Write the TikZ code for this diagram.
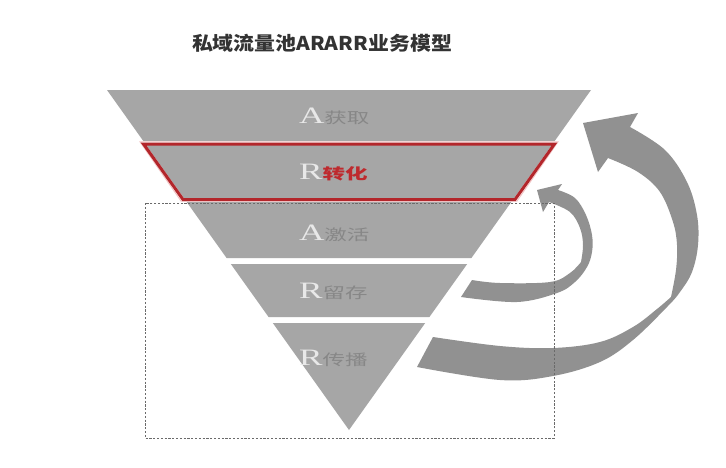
\documentclass[tikz,border=0pt]{standalone}
\usepackage{fontspec}
\setmainfont{Liberation Serif}
\newfontfamily\cjk{Noto Sans CJK SC}
\definecolor{bandgray}{HTML}{A6A6A6}
\definecolor{arrowgray}{HTML}{919191}
\definecolor{lettercol}{HTML}{E8E8E8}
\definecolor{txtgray}{HTML}{878787}
\definecolor{redline}{HTML}{B3262B}
\definecolor{redtxt}{HTML}{BE2A2E}
\definecolor{pinkline}{HTML}{F2C4C4}
\definecolor{titlecol}{HTML}{333333}
\definecolor{dashcol}{HTML}{6A6A6A}
\tikzset{
  band/.style={fill=bandgray},
  ribbon/.style={fill=arrowgray},
  lbl/.style={anchor=base west, inner sep=0pt, outer sep=0pt},
  frame/.style={draw=dashcol, line width=1pt, dash pattern=on 2.2pt off 1.6pt},
}
\newcommand\bandlabel[3]{\scalebox{1.5}[1]{{\color{lettercol}\fontsize{23.5}{23.5}\selectfont #1}{\cjk\fontsize{15}{15}\selectfont\color{#3}#2}}}
\begin{document}
\begin{tikzpicture}[x=1pt,y=-1pt]
\useasboundingbox (0,0) rectangle (726,467);
\fill[white] (0,0) rectangle (726,467);

% title
\node[inner sep=0pt] (title) at (322,43) {\scalebox{1.1}[1]{\cjk\bfseries\fontsize{19}{19}\selectfont\color{titlecol}私域流量池ARARR业务模型}};

% funnel bands
\fill[band] (107,90) -- (591,90) -- (554.7,141) -- (143.3,141) -- cycle;
\fill[band] (145.4,144) -- (552.6,144) -- (513.4,199) -- (184.6,199) -- cycle;
\fill[band] (186.7,202) -- (511.3,202) -- (471.4,258) -- (226.6,258) -- cycle;
\fill[band] (230.8,264) -- (467.2,264) -- (429.4,317) -- (268.6,317) -- cycle;
\fill[band] (272.8,323) -- (425.2,323) -- (349,430) -- cycle;

% red highlight of second band
\draw[pinkline, line width=1pt] (140,141.8) -- (558,141.8) -- (517,201) -- (181,201) -- cycle;
\draw[redline, line width=3pt, line join=miter] (143.5,144) -- (554.5,144) -- (515,199.5) -- (183,199.5) -- cycle;

% labels
\node[lbl] (l1) at (299,123) {\bandlabel{A}{获取}{txtgray}};
\node[lbl] (l2) at (299,179.5) {\bandlabel{R}{\bfseries 转化}{redtxt}};
\node[lbl] (l3) at (299,240) {\bandlabel{A}{激活}{txtgray}};
\node[lbl] (l4) at (299,298) {\bandlabel{R}{留存}{txtgray}};
\node[lbl] (l5) at (299,365) {\bandlabel{R}{传播}{txtgray}};

% big ribbon arrow
\fill[ribbon]
  plot[smooth, tension=0.6] coordinates {(433,337) (500,346) (553,348) (600,342) (633,327) (657,309) (671,297)}
  -- plot[smooth, tension=0.6] coordinates {(671,297) (676,270) (677,245) (673,222) (660,192) (638,172) (608,158)}
  -- (598,172) -- (583,123) -- (638,113) -- (630,127)
  -- plot[smooth, tension=0.6] coordinates {(630,127) (665,150) (687,182) (697,215) (698,245) (692,272) (680,292) (667,307) (633,340) (600,362) (553,376) (500,380) (417,367)}
  -- cycle;

% small ribbon arrow
\fill[ribbon]
  plot[smooth, tension=0.6] coordinates {(472,280) (500,283) (550,282) (570,273) (581,262)}
  -- plot[smooth, tension=0.6] coordinates {(581,262) (583,245) (580,228) (570,212) (549,202)}
  -- (543,212) -- (537,190) -- (562,184) -- (558,190)
  -- plot[smooth, tension=0.6] coordinates {(558,190) (575,198) (586,215) (592,235) (592,252) (587,267) (575,282) (557,293) (517,302) (461,297)}
  -- cycle;

% dashed frame
\draw[frame] (145,203) rectangle (554,438);
\end{tikzpicture}
\end{document}
